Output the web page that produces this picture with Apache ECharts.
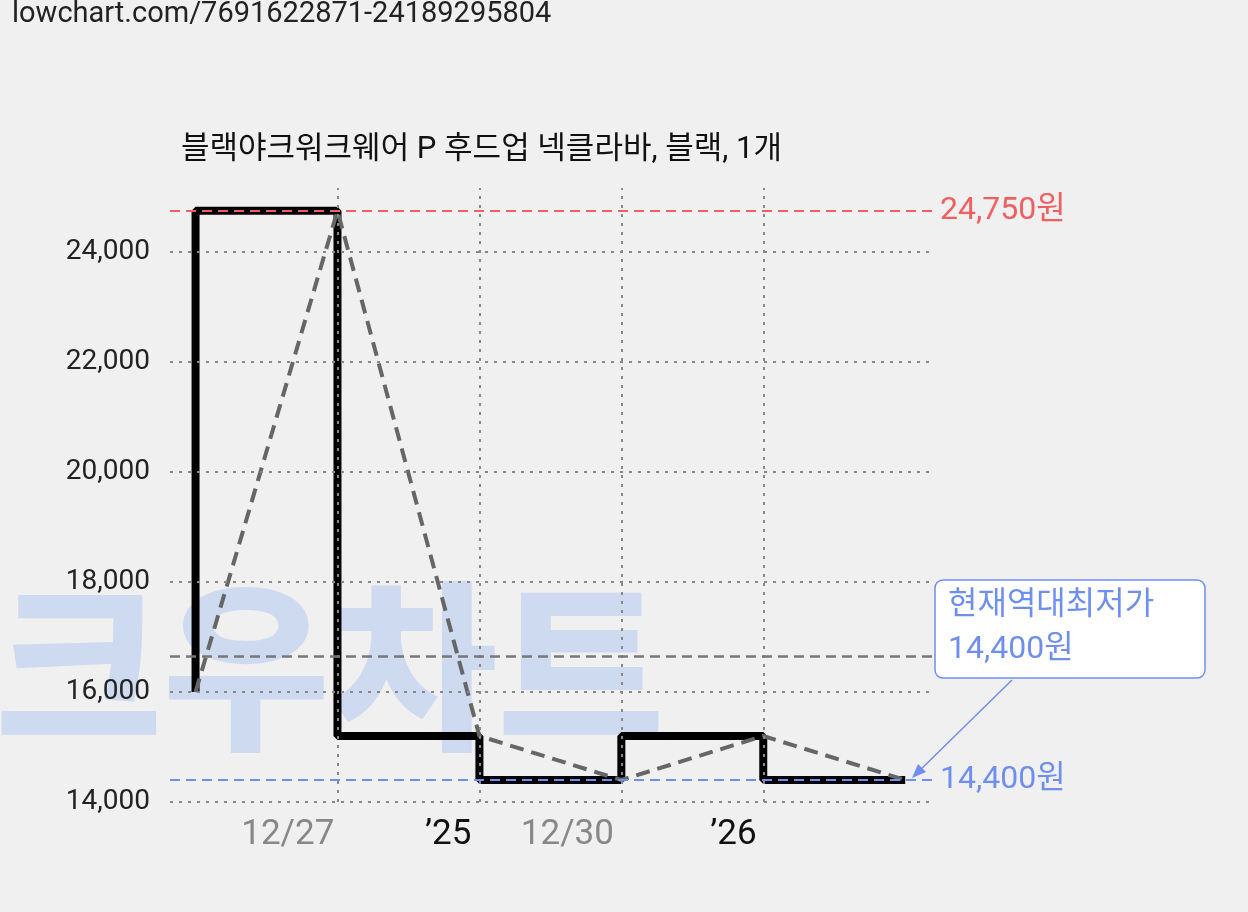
<!DOCTYPE html><html><head><meta charset="utf-8"><script src="https://cdn.jsdelivr.net/npm/echarts@6/dist/echarts.min.js"></script></head><body style="margin:0;background:#f0f0f0"><div id="c" style="width:1248px;height:912px"></div><script>
const xs=[0,1,2,3,4,5];
const prices=[16000,24750,15200,14400,15200,14400];
const xLabelPos=[0.65,1.78,2.62,3.79];
const xLabelText=['12/27','\u201925','12/30','\u201926'];
const xLabelColor=['#888','#111','#888','#111'];
const yTicks=[14000,16000,18000,20000,22000,24000];
const xGrid=[1,2,3,4];
const maxP=24750,minP=14400;
const pts=xs.map((x,i)=>[x,prices[i]]);
const ch=echarts.init(document.getElementById('c'));
const F='Roboto, "Noto Sans CJK KR", sans-serif';
const dot={type:[3,6],color:'#888',width:2};
ch.setOption({backgroundColor:'#f0f0f0',animation:false,
title:{text:'블랙야크워크웨어 P 후드업 넥클라바, 블랙, 1개',left:176,top:130,textStyle:{fontSize:31,fontWeight:'normal',color:'#111',fontFamily:F}},
graphic:[
{type:'text',left:12,top:0,style:{text:'lowchart.com/7691622871-24189295804',fontSize:29,fill:'#222',fontFamily:F}},
{type:'text',left:-5,top:598,z:-1,style:{text:'크우차트',fontSize:182,fontWeight:900,fill:'rgba(165,190,240,0.45)',fontFamily:F}},
{type:'line',shape:{x1:1012,y1:680,x2:914,y2:776},style:{stroke:'#6f8ff0',lineWidth:1.5}},
{type:'polygon',shape:{points:[[912,778],[918,764],[926,772]]},style:{fill:'#6f8ff0'}},
{type:'rect',shape:{x:935,y:580,width:270,height:98,r:8},style:{fill:'#fff',stroke:'#6f8ff0',lineWidth:1.5}},
{type:'text',left:948,top:584,style:{text:'현재역대최저가\n14,400원',fontSize:32,lineHeight:44,fill:'#6f8ff0',fontFamily:F}}
],
grid:{left:170,right:313,top:188,bottom:110},
xAxis:[{type:'value',min:-0.18,max:5.21,axisLine:{show:false},axisTick:{show:false},splitLine:{show:false},axisLabel:{show:false}},
{type:'value',min:-0.18,max:5.21,position:'bottom',interval:0.01,axisLine:{show:false},axisTick:{show:false},splitLine:{show:false},
axisLabel:{margin:16,rich:{g:{color:'#888',fontSize:35,fontFamily:F},k:{color:'#111',fontSize:35,fontFamily:F}},formatter:v=>{const i=xLabelPos.findIndex(p=>Math.abs(p-v)<0.003);return i<0?'':(xLabelColor[i]=='#888'?'{g|':'{k|')+xLabelText[i]+'}';}}}],
yAxis:{type:'value',min:14000,max:25164,interval:2000,axisLine:{show:false},axisTick:{show:false},
axisLabel:{fontSize:28,color:'#222',fontFamily:F,margin:20,formatter:v=>yTicks.includes(v)?v.toLocaleString('en-US'):''},
splitLine:{show:false}},
series:[
{type:'line',data:[],z:1,markLine:{symbol:'none',silent:true,data:[
...xGrid.map(x=>[{coord:[x,14000],lineStyle:dot,label:{show:false}},{coord:[x,25164]}]),
...yTicks.map(y=>({yAxis:y,lineStyle:dot,label:{show:false}}))]}},
{type:'line',data:pts,symbol:'none',z:2,lineStyle:{width:0,opacity:0},
markLine:{symbol:'none',silent:true,data:[
{yAxis:maxP,lineStyle:{type:[10,6],color:'#f06060',width:2},label:{formatter:maxP.toLocaleString('en-US')+'원',color:'#f06060',fontSize:32,fontFamily:F,position:'end'}},
{yAxis:minP,lineStyle:{type:[10,6],color:'#6f8ff0',width:2},label:{formatter:minP.toLocaleString('en-US')+'원',color:'#6f8ff0',fontSize:32,fontFamily:F,position:'end'}},
{type:'average',lineStyle:{type:[10,6],color:'#777',width:2.5},label:{show:false}}]}},
{type:'line',data:pts,step:'start',symbol:'none',lineStyle:{color:'#000',width:8},z:3},
{type:'line',data:pts,symbol:'none',lineStyle:{color:'#666',width:4,type:[14,8]},z:4}
]});
</script></body></html>
